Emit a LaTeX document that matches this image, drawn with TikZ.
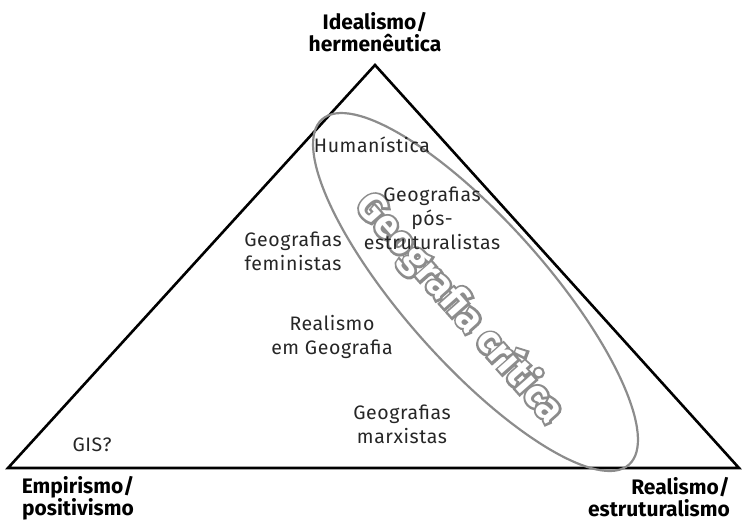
\documentclass[tikz,border=0pt]{standalone}
\usepackage{fontspec}
\setmainfont{Fira Sans}
\definecolor{ellgray}{RGB}{140,140,140}
\begin{document}
\begin{tikzpicture}[x=1pt,y=-1pt,
  lbl/.style={font=\fontsize{19.5}{24}\selectfont\addfontfeature{LetterSpace=3}, align=center, text=black!85, inner sep=0pt},
  pole/.style={font=\fontsize{21}{22}\selectfont\bfseries, inner sep=0pt},
  tri/.style={line width=2.6pt, line join=miter},
  ell/.style={draw=ellgray, line width=2.2pt},
  crit/.style={rotate=-48.5, inner sep=0pt, font=\fontsize{39}{39}\selectfont\bfseries}]
\useasboundingbox (0,0) rectangle (744,523);
\coordinate (A) at (375,65);
\coordinate (L) at (8,468);
\coordinate (R) at (739,468);
\draw[tri] (L) -- (A) -- (R) -- cycle;
\draw[ell, rotate around={-48.35:(475.5,292)}] (475.5,292) ellipse [x radius=231, y radius=71];
\node[crit, text=ellgray] (gcb) at (460,308) {\addfontfeature{FakeBold=12}Geografia crítica};
\node[crit, text=white] (gc) at (gcb.center) {Geografia crítica};
\node[pole, align=center] (ide) at (375,32) {Idealismo/\\hermenêutica};
\node[pole, align=center] (emp) at (78,498) {Empirismo/\\positivismo};
\node[pole, align=right, anchor=east] (rea) at (730,497) {Realismo/\\estruturalismo};
\node[lbl] (hum) at (372,145) {Humanística};
\node[lbl] (pos) at (432,218) {Geografias\\pós-\\estruturalistas};
\node[lbl] (fem) at (293,251) {Geografias\\feministas};
\node[lbl] (rg) at (332,337) {Realismo\\em Geografia};
\node[lbl] (mar) at (402,424) {Geografias\\marxistas};
\node[lbl] (gis) at (92,445) {GIS?};
\end{tikzpicture}
\end{document}
